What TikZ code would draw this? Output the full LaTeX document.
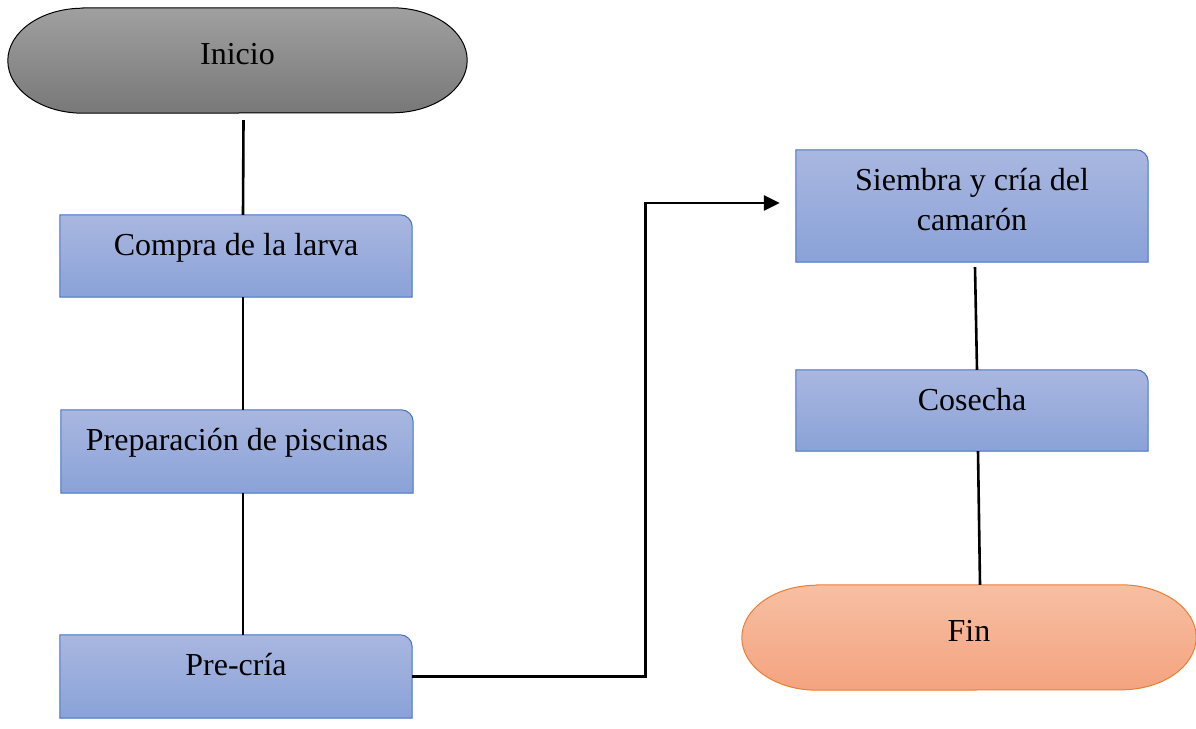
\documentclass[tikz,border=0pt]{standalone}
\usepackage{fontspec}
\setmainfont{Liberation Serif}
\usetikzlibrary{arrows.meta, backgrounds}
\definecolor{pasotop}{HTML}{A9B7E0}
\definecolor{pasobot}{HTML}{8AA2D8}
\definecolor{pasoline}{HTML}{4472C4}
\definecolor{gristop}{HTML}{A0A0A0}
\definecolor{grisbot}{HTML}{787878}
\definecolor{fintop}{HTML}{F7BFA3}
\definecolor{finbot}{HTML}{F4A37F}
\definecolor{finline}{HTML}{ED7D31}

\begin{document}
\begin{tikzpicture}[x=1pt, y=-1pt,
        paso/.style={inner sep=0pt, minimum width=352pt, text height=40pt, align=center, font=\fontsize{32}{40}\selectfont},
        extremo/.style={inner sep=0pt, minimum width=459pt, text height=56pt, text depth=49pt, font=\fontsize{32}{40}\selectfont},
        enlace/.style={line width=2.6pt}]
        \useasboundingbox (0,0) rectangle (1196,728);
        \node[extremo] (inicio) at (237.5,60.5) {Inicio};
        \node[paso, text depth=42pt] (compra) at (236,256) {Compra de la larva};
        \node[paso, text depth=43pt] (prep) at (237,451.5) {Preparación de piscinas};
        \node[paso, text depth=43pt] (precria) at (236,676.5) {Pre-cría};
        \node[paso, text height=80pt, text depth=32pt] (siembra) at (972,206) {Siembra y cría del\\camarón};
        \node[paso, text depth=41pt] (cosecha) at (972,410.5) {Cosecha};
        \node[extremo, minimum width=454pt] (fin) at (969,637.5) {Fin};
        \begin{scope}[on background layer]
            \shade[top color=gristop, bottom color=grisbot, draw=black, line width=1pt] ([xshift=75pt]inicio.north west) -- ([xshift=-75pt]inicio.north east) arc[start angle=90, end angle=-90, x radius=75pt, y radius=52.5pt] -- ([xshift=75pt]inicio.south west) arc[start angle=270, end angle=90, x radius=75pt, y radius=52.5pt] -- cycle;
            \shade[top color=fintop, bottom color=finbot, draw=finline, line width=1pt] ([xshift=75pt]fin.north west) -- ([xshift=-75pt]fin.north east) arc[start angle=90, end angle=-90, x radius=75pt, y radius=52.5pt] -- ([xshift=75pt]fin.south west) arc[start angle=270, end angle=90, x radius=75pt, y radius=52.5pt] -- cycle;
            \foreach \n in {compra, prep, precria, siembra, cosecha}
                \shade[top color=pasotop, bottom color=pasobot, draw=pasoline, line width=1pt] (\n.south west) -- (\n.north west) -- ([xshift=-12pt]\n.north east) arc[start angle=90, end angle=0, radius=12pt] -- (\n.south east) -- cycle;
        \end{scope}
        \draw[enlace] ([xshift=6pt, yshift=-7pt]inicio.south) -- ([xshift=7pt]compra.north);
        \draw[enlace] ([xshift=7pt]compra.south) -- ([xshift=6pt]prep.north);
        \draw[enlace] ([xshift=6pt]prep.south) -- ([xshift=7pt]precria.north);
        \draw[enlace, -{Triangle[length=16pt, width=15pt]}] (precria.east) -- ++(233,0) |- ([xshift=-16pt, yshift=3pt]siembra.west);
        \draw[enlace] ([xshift=3pt, yshift=-5pt]siembra.south) -- ([xshift=5pt]cosecha.north);
        \draw[enlace] ([xshift=6pt]cosecha.south) -- ([xshift=11pt]fin.north);
    \end{tikzpicture}
\end{document}
